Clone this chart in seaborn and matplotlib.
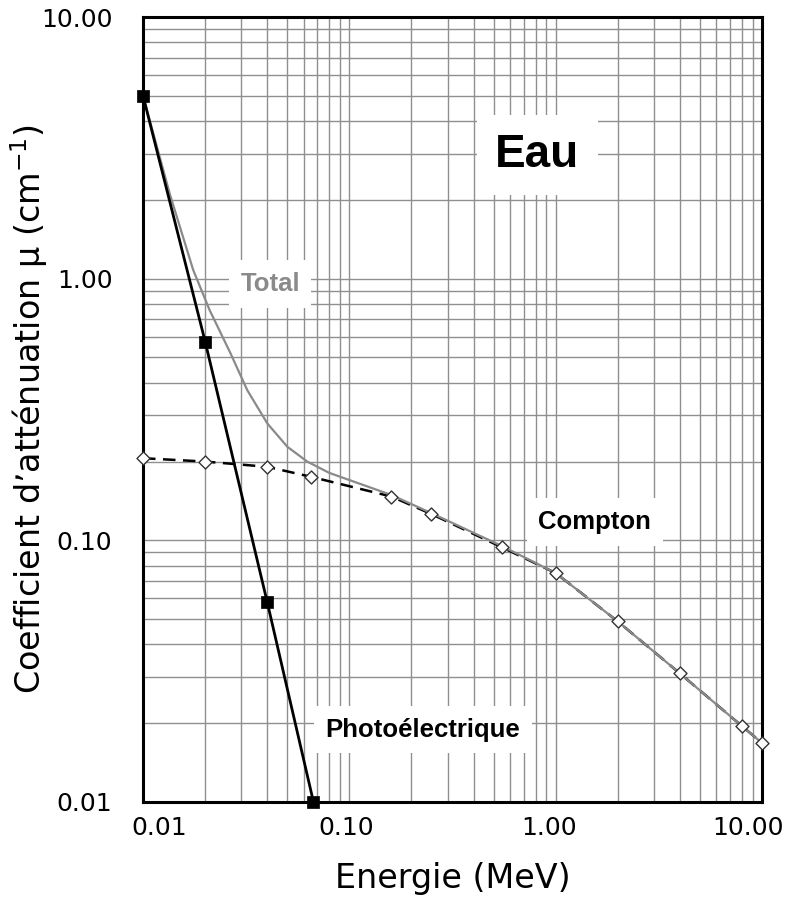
import numpy as np
import pandas as pd
import matplotlib
matplotlib.use("Agg")
import matplotlib.pyplot as plt
import matplotlib.transforms as mtransforms
from matplotlib.ticker import LogLocator, NullFormatter, FixedLocator
import seaborn as sns

# ---- data ----
photo_energy = [0.01, 0.02, 0.04, 0.067]
photo_mu = [5.0, 0.575, 0.058, 0.01]

compton_energy = [0.01, 0.02, 0.04, 0.065, 0.16, 0.25, 0.55, 1.0, 2.0, 4.0, 8.0, 10.0]
compton_mu = [0.206, 0.200, 0.191, 0.175, 0.147, 0.126, 0.094, 0.075, 0.049, 0.031, 0.0195, 0.0168]

total_energy = [0.01, 0.0135, 0.0175, 0.021, 0.0265, 0.032, 0.04, 0.05, 0.0625, 0.08,
                0.16, 0.25, 0.55, 1.0, 2.0, 4.0, 8.0, 10.0]
total_mu = [5.0, 2.1, 1.08, 0.76, 0.52, 0.375, 0.28, 0.228, 0.200, 0.181,
            0.149, 0.127, 0.095, 0.075, 0.049, 0.031, 0.0195, 0.0168]

x_ticks = [0.01, 0.1, 1.0, 10.0]
x_tick_labels = ["0.01", "0.10", "1.00", "10.00"]
y_ticks = [0.01, 0.1, 1.0, 10.0]
y_tick_labels = ["0.01", "0.10", "1.00", "10.00"]

title_text = "Eau"
label_total = "Total"
label_compton = "Compton"
label_photo = "Photoélectrique"
x_label = "Energie (MeV)"
y_label = "Coefficient d\u2019atténuation μ (cm$^{-1}$)"

# ---- styling ----
sns.set_style("white")
plt.rcParams["font.family"] = ["DejaVu Sans"]
plt.rcParams["mathtext.fontset"] = "dejavusans"
for k in ("text.color", "axes.labelcolor", "xtick.color", "ytick.color"):
    plt.rcParams[k] = "black"

fig = plt.figure(figsize=(7.92, 9.06), dpi=100)
ax = fig.add_axes([0.1806, 0.1148, 0.7815, 0.8664])

df_photo = pd.DataFrame({"E": photo_energy, "mu": photo_mu})
df_compton = pd.DataFrame({"E": compton_energy, "mu": compton_mu})
df_total = pd.DataFrame({"E": total_energy, "mu": total_mu})

ax.set_xscale("log")
ax.set_yscale("log")

# Compton dashed line
sns.lineplot(data=df_compton, x="E", y="mu", ax=ax, color="black", lw=1.8,
             estimator=None, sort=False, zorder=3)
ax.lines[-1].set_dashes((5, 3))
# Total grey line
sns.lineplot(data=df_total, x="E", y="mu", ax=ax, color="#8a8a8a", lw=1.6,
             estimator=None, sort=False, zorder=4)
# Photoelectric line
sns.lineplot(data=df_photo, x="E", y="mu", ax=ax, color="black", lw=2.0,
             estimator=None, sort=False, zorder=5)
# markers
sns.scatterplot(data=df_compton, x="E", y="mu", ax=ax, marker="D", s=44,
                facecolor="white", edgecolor="#333333", linewidth=1.0,
                zorder=6, clip_on=False)
sns.scatterplot(data=df_photo, x="E", y="mu", ax=ax, marker="s", s=80,
                color="black", edgecolor="black", linewidth=0.5,
                zorder=7, clip_on=False)

ax.set_xlim(0.01, 10)
ax.set_ylim(0.01, 10)

ax.xaxis.set_major_locator(FixedLocator(x_ticks))
ax.set_xticklabels(x_tick_labels)
ax.yaxis.set_major_locator(FixedLocator(y_ticks))
ax.set_yticklabels(y_tick_labels)
for axis in (ax.xaxis, ax.yaxis):
    axis.set_minor_locator(LogLocator(base=10, subs=np.arange(2, 10)))
    axis.set_minor_formatter(NullFormatter())

ax.grid(which="both", color="#8f8f8f", lw=1.0, zorder=0)
ax.set_axisbelow(True)

ax.tick_params(axis="both", which="both", direction="in", length=6, width=1.5,
               color="black", top=False, right=False)
ax.tick_params(axis="y", which="major", labelsize=18, pad=22)
ax.tick_params(axis="x", which="major", labelsize=18, pad=10)

# small horizontal shifts of x tick labels as in the reference
x_shifts_px = [16, -3, -7, -14]
for lab, dx in zip(ax.get_xticklabels(), x_shifts_px):
    lab.set_transform(lab.get_transform() +
                      mtransforms.ScaledTranslation(dx / 100.0, 0, fig.dpi_scale_trans))

for sp in ax.spines.values():
    sp.set_color("black")
    sp.set_linewidth(2.2)

ax.set_xlabel(x_label, fontsize=24)
ax.set_ylabel(y_label, fontsize=24)
ax.xaxis.set_label_coords(0.5, -0.077)
ax.yaxis.set_label_coords(-0.150, 0.5)

lab_font = ["Liberation Sans", "DejaVu Sans"]
box = dict(facecolor="white", edgecolor="none", boxstyle="square,pad=0.45")
ax.text(0.813, 2.97, title_text, fontsize=33, fontweight="bold", family=lab_font,
        ha="center", va="center", bbox=dict(facecolor="white", edgecolor="none",
                                            boxstyle="square,pad=0.4"), zorder=8)
ax.text(0.0413, 0.954, label_total, fontsize=18.5, fontweight="bold", family=lab_font,
        color="#8a8a8a", ha="center", va="center", bbox=box, zorder=8)
ax.text(1.55, 0.1175, label_compton, fontsize=18.5, fontweight="bold", family=lab_font,
        color="black", ha="center", va="center", bbox=box, zorder=8)
ax.text(0.2275, 0.01886, label_photo, fontsize=18.5, fontweight="bold", family=lab_font,
        color="black", ha="center", va="center", bbox=box, zorder=8)

fig.savefig("out.png", dpi=100)
